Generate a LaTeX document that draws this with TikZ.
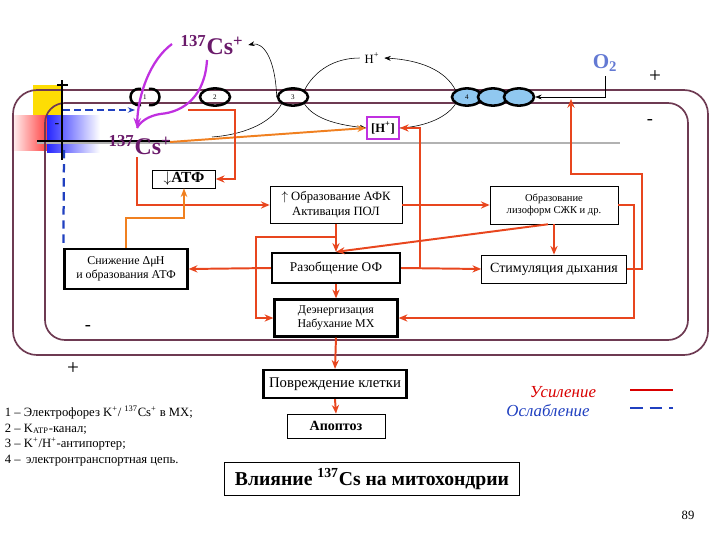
\documentclass[tikz,border=0pt]{standalone}
\usepackage{fontspec}
\setmainfont{Liberation Serif}
\usetikzlibrary{arrows.meta,shapes.geometric}
\definecolor{memb}{HTML}{6E3A52}
\definecolor{rl}{HTML}{E8461E}
\definecolor{ol}{HTML}{F08020}
\definecolor{mag}{HTML}{C030E0}
\definecolor{csc}{HTML}{6A1A6A}
\definecolor{bl}{HTML}{2040C0}
\definecolor{ebl}{HTML}{90C8F0}
\begin{document}
\begin{tikzpicture}[x=0.25mm,y=-0.25mm,
  box/.style={draw,inner sep=0pt,align=center,font=\fontsize{9}{10.5}\selectfont},
  tbox/.style={box,line width=1.6pt},
  rar/.style={draw=rl,line width=1.4pt,-{Stealth[length=2.2mm,width=1.8mm]}},
  bar/.style={-{Stealth[length=1.6mm]},thin},
  chan/.style={ellipse,draw,line width=1.8pt,minimum width=7.5mm,minimum height=4.3mm,inner sep=0pt,font=\fontsize{5}{5}\selectfont},
  cs/.style={text=csc,font=\fontsize{17}{17}\selectfont\bfseries}]
\useasboundingbox (0,0) rectangle (720,540);
% gradient squares
\fill[yellow!80!orange] (33,85) rectangle (62,118);
\shade[left color=white,right color=red!80] (10,115) rectangle (50,150);
\shade[left color=blue!85,right color=white] (47,115) rectangle (100,152);
\draw[gray!60,line width=1pt] (37,143) -- (620,143);
% membranes
\draw[memb,line width=1.2pt,rounded corners=6mm] (13,90) rectangle (708,355);
\draw[memb,line width=1.2pt,rounded corners=5mm] (45,103) rectangle (688,340);
\draw[line width=1.2pt] (62,80) -- (62,160);
\draw[line width=1.2pt] (37,141) -- (170,141);
\draw[line width=1.2pt] (57,85) -- (68,85);
\node at (57,126) {-};
% channels
\node[chan,draw=none] (ch1) at (145,97) {1};
\draw[line width=1.8pt] (141,89) .. controls (127,87) and (127,107) .. (141,105);
\draw[line width=1.8pt] (149,89) .. controls (163,87) and (163,107) .. (149,105);
\node[chan] (ch2) at (215,97) {2};
\node[chan] (ch3) at (293,97) {3};
\node[chan,fill=ebl] (e1) at (467,97) {4};
\node[chan,fill=ebl] (e2) at (493,97) {};
\node[chan,fill=ebl] (e3) at (519,97) {};
% labels
\node[cs] (cs1) at (212,45) {\textsuperscript{137}Cs\textsuperscript{+}};
\node[cs] (cs2) at (140,145) {\textsuperscript{137}Cs\textsuperscript{+}};
\node[font=\fontsize{9}{9}\selectfont] (h) at (372,58) {H\textsuperscript{+}};
\node[box,draw=mag,line width=1.2pt,minimum width=8mm,minimum height=5.5mm,font=\fontsize{9}{9}\selectfont\bfseries] (hbox) at (383,128) {[H\textsuperscript{+}]};
\node[text=bl!70,font=\fontsize{15}{15}\selectfont\bfseries] (o2) at (605,63) {O\textsubscript{2}};
\node[font=\fontsize{15}{15}\selectfont] (p1) at (655,77) {+};
\node[font=\fontsize{13}{13}\selectfont] (m1) at (650,122) {-};
\node[font=\fontsize{13}{13}\selectfont] (m2) at (88,328) {-};
\node[font=\fontsize{15}{15}\selectfont] (p2) at (73,369) {+};
% boxes
\node[box,minimum width=15.75mm,minimum height=4.5mm,font=\fontsize{11}{11}\selectfont\bfseries] (atp) at (184,179) {$\downarrow$АТФ};
\node[box,minimum width=33mm,minimum height=9.25mm] (afk) at (336,205) {$\uparrow$ Образование АФК\\Активация ПОЛ};
\node[box,minimum width=32mm,minimum height=9.5mm,font=\fontsize{7.5}{9}\selectfont] (liz) at (554,205) {Образование\\лизоформ СЖК и др.};
\node[tbox,minimum width=30.75mm,minimum height=10mm,font=\fontsize{8.5}{10}\selectfont] (snizh) at (126,269) {Снижение Δμ\kern-.5ptН\\и образования АТФ};
\node[tbox,minimum width=32mm,minimum height=7.5mm,font=\fontsize{9.5}{10}\selectfont] (razob) at (336,268) {Разобщение ОФ};
\node[box,minimum width=36.25mm,minimum height=7mm,font=\fontsize{10}{10}\selectfont] (stim) at (554,269) {Стимуляция дыхания};
\node[tbox,minimum width=30.75mm,minimum height=9.25mm,font=\fontsize{8.5}{10}\selectfont] (deen) at (336,318) {Деэнергизация\\Набухание МХ};
\node[tbox,minimum width=35.75mm,minimum height=7mm,font=\fontsize{10.5}{10.5}\selectfont] (povr) at (335,384) {Повреждение клетки};
\node[box,minimum width=24.5mm,minimum height=6mm,font=\fontsize{10}{10}\selectfont\bfseries] (apop) at (336,426) {Апоптоз};
\node[box,minimum width=73.75mm,minimum height=8.25mm,font=\fontsize{14}{14}\selectfont\bfseries] (title) at (372,479) {Влияние \textsuperscript{137}Cs на митохондрии};
% legend
\node[text=red!85!black,font=\fontsize{12}{12}\selectfont\itshape] (l1) at (563,392) {Усиление};
\node[text=bl,font=\fontsize{12}{12}\selectfont\itshape] (l2) at (548,411) {Ослабление};
\coordinate (lr1) at (630,390); \coordinate (lr2) at (673,390);
\coordinate (lb1) at (630,408); \coordinate (lb2) at (673,408);
\draw[red!85!black,line width=1.6pt] (lr1) -- (lr2);
\draw[bl,line width=1.6pt,dash pattern=on 9pt off 5pt] (lb1) -- (lb2);
\node[anchor=west,align=left,font=\fontsize{9}{11}\selectfont] (notes) at (0,436) {1 -- Электрофорез K\textsuperscript{+}/ \textsuperscript{137}Cs\textsuperscript{+} в МХ;\\2 -- K\textsubscript{ATP}-канал;\\3 -- K\textsuperscript{+}/H\textsuperscript{+}-антипортер;\\4 -- \,электронтранспортная цепь.};
\node[font=\fontsize{9}{9}\selectfont] (pg) at (688,515) {89};
% magenta arrows
\coordinate (mt) at (137,128);
\draw[mag,line width=1.6pt,-{Stealth[length=2.5mm]}] (172,44) .. controls (150,60) and (138,95) .. (mt);
\draw[mag,line width=1.6pt] (207,60) .. controls (205,95) and (185,112) .. (160,114) .. controls (148,116) and (140,122) .. (mt);
% black curves
\coordinate (k3) at (212,137);
\draw[bar] (ch3.west) .. controls (275,55) and (262,42) .. (cs1.east);
\draw[thin] (ch3.south west) .. controls (270,125) and (240,135) .. (k3);
\draw[thin] (ch3.north east) .. controls (315,70) and (335,58) .. (h.west);
\draw[bar] (ch3.south east) .. controls (315,120) and (340,125) .. (hbox.west);
\draw[bar] (e1.north west) .. controls (445,70) and (420,60) .. (h.east);
\draw[thin] (e1.south west) .. controls (445,120) and (420,127) .. (hbox.east);
\draw[bar] (o2.south) |- (e3.east);
% blue dashed
\coordinate (b1) at (63,110); \coordinate (b2) at (135,110); \coordinate (b3) at (64,150);
\draw[bl,line width=1pt,dash pattern=on 5pt off 3pt,-{Stealth[length=1.8mm]}] (b1) -- (b2);
\draw[bl,line width=1.6pt,dash pattern=on 6pt off 4pt] (b3) -- (snizh.north west);
% orange / red connectors
\draw[ol,line width=1.4pt,-{Stealth[length=2.2mm]}] (170,142) -- (hbox.west);
\coordinate (c1) at (137,157);
\draw[rar] (c1) |- (afk.west);
\coordinate (k2) at (188,110);
\draw[rar] (k2) -- ++(47,0) |- (atp.east);
\draw[draw=ol,line width=1.4pt,-{Stealth[length=2.2mm]}] (snizh.north) -- ++(0,-30) -| (atp.south);
\draw[rar] (afk.east) -- (liz.west);
\coordinate (v1) at (420,268);
\draw[rar] (v1) |- (hbox.east);
\draw[rar] (razob.east) -- (stim.west);
\draw[rar] (liz.south) -- (stim.north);
\draw[rar] ([xshift=-1.5mm]liz.south) -- (razob.north);
\draw[rar] (afk.south) -- (razob.north);
\draw[rar] (razob.west) -- (snizh.east);
\draw[rar] (razob.south) -- (deen.north);
\coordinate (la) at (336,237); \coordinate (lb) at (256,237);
\draw[rar] (la) -- (lb) |- (deen.west);
\coordinate (rb) at (634,205);
\draw[rar] (liz.east) -- (rb) |- (deen.east);
\coordinate (s1) at (642,174); \coordinate (s2) at (571,174); \coordinate (s3) at (571,99);
\draw[rar] (stim.east) -| (s1) -- (s2) -- (s3);
\draw[rar] (deen.south) -- (povr.north);
\draw[rar] (povr.south) -- (apop.north);
\end{tikzpicture}
\end{document}
